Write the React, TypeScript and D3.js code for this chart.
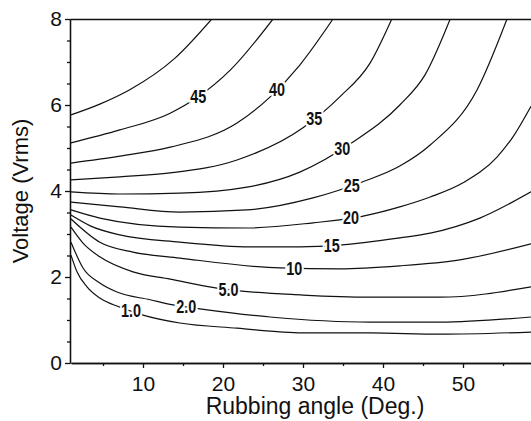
import React, { useRef, useEffect } from "react";
import * as d3 from "d3";

// contour lines: [rubbing angle (deg), voltage (Vrms)]
const curve50 = [[1, 5.77], [4.6, 6.02], [8.4, 6.36], [14, 7.09], [18.6, 8]];
const curve45 = [[1, 5.12], [7.1, 5.42], [13.4, 5.81], [16.9, 6.19], [20.9, 6.81], [26.25, 8]];
const curve40 = [[1, 4.65], [7.1, 4.81], [13.4, 5.02], [21.75, 5.58], [25.9, 6.19], [29.6, 6.93], [33.75, 8]];
const curve35 = [[1, 4.26], [7.1, 4.33], [13.4, 4.42], [21.75, 4.72], [30, 5.47], [34.6, 6.19], [38.4, 6.98], [41.1, 8]];
const curve30 = [[1, 3.98], [7.1, 3.93], [14.6, 3.95], [23, 4.09], [29.6, 4.44], [36.1, 5.12], [42.1, 6.0], [45.25, 6.7], [48.4, 8]];
const curve25 = [[1, 3.74], [7.1, 3.63], [14.6, 3.51], [23, 3.56], [31.25, 3.84], [37.4, 4.21], [42.1, 4.58], [45.9, 5.07], [51.75, 6.35], [55.5, 8]];
const curve20 = [[1, 3.56], [4.6, 3.37], [14.6, 3.16], [23, 3.14], [31.25, 3.26], [37.1, 3.4], [42.1, 3.63], [45.9, 3.86], [50, 4.19], [54.25, 4.79], [56.25, 5.26], [58.5, 5.97]];
const curve15 = [[1, 3.44], [3.4, 3.19], [7.1, 2.98], [14.6, 2.81], [23.4, 2.7], [29.6, 2.7], [34.6, 2.74], [42.1, 2.91], [45.9, 3.02], [52.1, 3.37], [58.5, 3.98]];
const curve10 = [[1, 3.35], [4.6, 2.81], [8.75, 2.58], [14.6, 2.44], [27.1, 2.21], [34.6, 2.19], [42.1, 2.26], [49.6, 2.4], [58.5, 2.77]];
const curve5 = [[1, 3.16], [2.5, 2.79], [4.6, 2.47], [8.75, 2.12], [13.4, 1.95], [19.25, 1.74], [30, 1.58], [38.4, 1.53], [47.1, 1.53], [58.5, 1.77]];
const curve2 = [[1, 2.81], [2.5, 2.21], [4.6, 1.86], [6.75, 1.65], [10.9, 1.47], [13.75, 1.35], [17.1, 1.26], [25.9, 1.07], [38.4, 0.95], [47.1, 0.95], [58.5, 1.07]];
const curve1 = [[1, 2.51], [1.75, 2.12], [3, 1.77], [4.6, 1.51], [7.1, 1.3], [9.9, 1.12], [14.6, 0.93], [21.75, 0.81], [30, 0.7], [38.4, 0.7], [47.1, 0.67], [58.5, 0.72]];

const contourCurves = [curve50, curve45, curve40, curve35, curve30, curve25, curve20, curve15, curve10, curve5, curve2, curve1];
const contourLabels = ["", "45", "40", "35", "30", "25", "20", "15", "10", "5.0", "2.0", "1.0"];
const labelAngles = [0, 16.9, 26.75, 31.4, 34.9, 36.1, 36.0, 33.6, 28.9, 20.7, 15.4, 8.5];

const xTicks = [10, 20, 30, 40, 50];
const xMinorTicks = [5, 15, 25, 35, 45, 55];
const yTicks = [0, 2, 4, 6, 8];
const yMinorTicks = [0.5, 1, 1.5, 2.5, 3, 3.5, 4.5, 5, 5.5, 6.5, 7, 7.5];

export default function App() {
  const svgRef = useRef<SVGSVGElement>(null);

  useEffect(() => {
    const width = 531;
    const top = 19;
    const bottom = 363;
    const left = 70;

    const x = d3.scaleLinear().domain([1, 60]).range([71, 543]);
    const y = d3.scaleLinear().domain([0, 8]).range([bottom, top]);

    const svg = d3.select(svgRef.current);
    svg.selectAll("*").remove();

    const axisFont = "'Liberation Sans', Arial, Helvetica, sans-serif";

    svg
      .append("defs")
      .append("clipPath")
      .attr("id", "plot")
      .append("rect")
      .attr("x", left)
      .attr("y", top)
      .attr("width", width - left)
      .attr("height", bottom - top);

    // contour lines
    const line = d3
      .line<number[]>()
      .x((d) => x(d[0]))
      .y((d) => y(d[1]))
      .curve(d3.curveMonotoneX);

    const plot = svg.append("g").attr("clip-path", "url(#plot)");
    plot
      .selectAll("path")
      .data(contourCurves)
      .join("path")
      .attr("d", (d) => line(d))
      .attr("fill", "none")
      .attr("stroke", "#111")
      .attr("stroke-width", 1.2);

    // contour labels, white halo breaks the line; squeezed to look condensed
    contourLabels.forEach((lab, i) => {
      if (!lab) return;
      const c = contourCurves[i];
      const onCurve = d3.scaleLinear().domain(c.map((d) => d[0])).range(c.map((d) => d[1]));
      const a = labelAngles[i];
      plot
        .append("text")
        .attr("transform", `translate(${x(a)},${y(onCurve(a))}) scale(0.8,1)`)
        .attr("dy", "0.36em")
        .attr("text-anchor", "middle")
        .attr("font-family", axisFont)
        .attr("font-weight", "bold")
        .attr("font-size", 18)
        .attr("fill", "#111")
        .attr("stroke", "#fff")
        .attr("stroke-width", 5)
        .attr("paint-order", "stroke")
        .text(lab);
    });

    // top border
    svg
      .append("line")
      .attr("x1", left + 0.5)
      .attr("x2", width)
      .attr("y1", top + 0.5)
      .attr("y2", top + 0.5)
      .attr("stroke", "#111")
      .attr("stroke-width", 1.3);

    // y axis
    svg
      .append("g")
      .attr("transform", `translate(${left},0)`)
      .call(d3.axisLeft(y).tickValues(yMinorTicks).tickSize(3).tickFormat(() => "").tickSizeOuter(0));
    svg
      .append("g")
      .attr("transform", `translate(${left},0)`)
      .call(d3.axisLeft(y).tickValues(yTicks).tickSize(5).tickPadding(3).tickSizeOuter(0));

    // x axis
    svg
      .append("g")
      .attr("transform", `translate(0,${bottom})`)
      .call(d3.axisBottom(x).tickValues(xMinorTicks).tickSize(3).tickFormat(() => "").tickSizeOuter(0));
    svg
      .append("g")
      .attr("transform", `translate(0,${bottom})`)
      .call(d3.axisBottom(x).tickValues(xTicks).tickSize(5).tickPadding(8).tickSizeOuter(0));

    svg.selectAll(".domain").attr("stroke", "#111").attr("stroke-width", 1.3);
    svg.selectAll(".tick line").attr("stroke", "#111").attr("stroke-width", 1.3);
    svg
      .selectAll(".tick text")
      .attr("font-family", axisFont)
      .attr("font-size", 21)
      .attr("fill", "#111");

    // axis titles
    svg
      .append("text")
      .attr("transform", `translate(28,${(top + bottom) / 2}) rotate(-90)`)
      .attr("text-anchor", "middle")
      .attr("font-family", axisFont)
      .attr("font-size", 22)
      .attr("fill", "#111")
      .text("Voltage (Vrms)");

    svg
      .append("text")
      .attr("x", 315)
      .attr("y", 414)
      .attr("text-anchor", "middle")
      .attr("font-family", axisFont)
      .attr("font-size", 23)
      .attr("fill", "#111")
      .text("Rubbing angle (Deg.)");
  }, []);

  return (
    <svg
      ref={svgRef}
      width={531}
      height={421}
      style={{ position: "absolute", left: 0, top: 0, background: "#fff" }}
    />
  );
}
